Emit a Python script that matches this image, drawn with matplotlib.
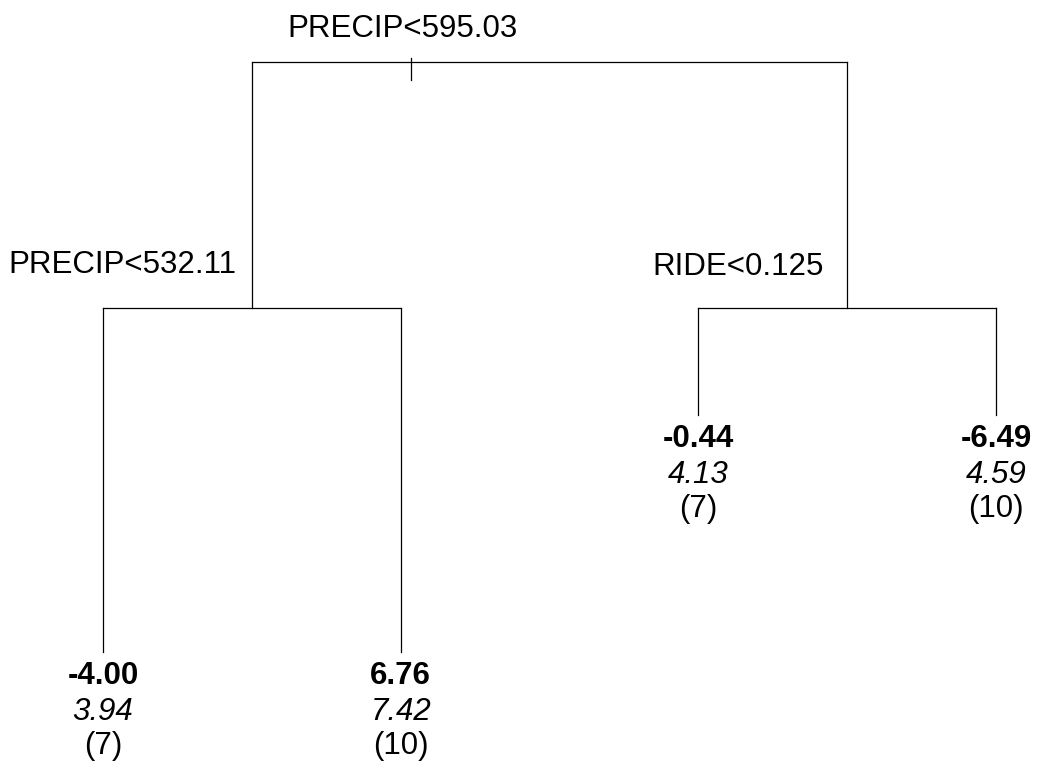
import matplotlib
matplotlib.use("Agg")
import matplotlib.pyplot as plt

# ---- data ----
split_labels = ["PRECIP<595.03", "PRECIP<532.11", "RIDE<0.125"]
leaf_means = ["-4.00", "6.76", "-0.44", "-6.49"]
leaf_sds = ["3.94", "7.42", "4.13", "4.59"]
leaf_ns = [7, 10, 7, 10]
# relative node heights (deviance-based scale, root = 1)
root_height = 1.0
internal_heights = [0.583, 0.583]
leaf_heights = [0.0, 0.0, 0.402, 0.402]

W, H = 1038, 772
fig = plt.figure(figsize=(W / 100, H / 100), dpi=100)
ax = fig.add_axes([0, 0, 1, 1])
ax.set_xlim(0.654, 4.141)
ax.set_ylim(-0.2034, 1.105)
ax.axis("off")

font = "Liberation Sans"
fs = 22.5
lw = 0.9

leaf_x = [1, 2, 3, 4]
internal_x = [(leaf_x[0] + leaf_x[1]) / 2, (leaf_x[2] + leaf_x[3]) / 2]

# root horizontal
ax.plot([internal_x[0], internal_x[1]], [root_height, root_height], color="black", lw=lw)
# root tick
ax.plot([2.035, 2.035], [root_height + 0.0068, root_height - 0.030], color="black", lw=lw)
# verticals from root to internals
for ix, ih in zip(internal_x, internal_heights):
    ax.plot([ix, ix], [root_height, ih], color="black", lw=lw)
# internal horizontals and leaf verticals
for k, (ix, ih) in enumerate(zip(internal_x, internal_heights)):
    l, r = 2 * k, 2 * k + 1
    ax.plot([leaf_x[l], leaf_x[r]], [ih, ih], color="black", lw=lw)
    for j in (l, r):
        ax.plot([leaf_x[j], leaf_x[j]], [ih, leaf_heights[j]], color="black", lw=lw)

px = (1.105 + 0.2034) / H  # data units per pixel (y)
pxx = (4.141 - 0.654) / W

# split labels
ax.text(2.005, root_height + 25 * px, split_labels[0], ha="center", va="baseline",
        fontsize=fs, family=font)
ax.text(internal_x[0] - 129 * pxx, internal_heights[0] + 35 * px, split_labels[1],
        ha="center", va="baseline", fontsize=fs, family=font)
ax.text(internal_x[1] - 109 * pxx, internal_heights[1] + 33 * px, split_labels[2],
        ha="center", va="baseline", fontsize=fs, family=font)

# leaf labels
for x, h, m, s, n in zip(leaf_x, leaf_heights, leaf_means, leaf_sds, leaf_ns):
    ax.text(x, h - 32 * px, m, ha="center", va="baseline", fontsize=fs,
            family=font, fontweight="bold")
    ax.text(x, h - 68 * px, s, ha="center", va="baseline", fontsize=fs,
            family=font, style="italic")
    ax.text(x, h - 102 * px, f"({n})", ha="center", va="baseline", fontsize=fs,
            family=font)

fig.savefig("out.png", dpi=100)
